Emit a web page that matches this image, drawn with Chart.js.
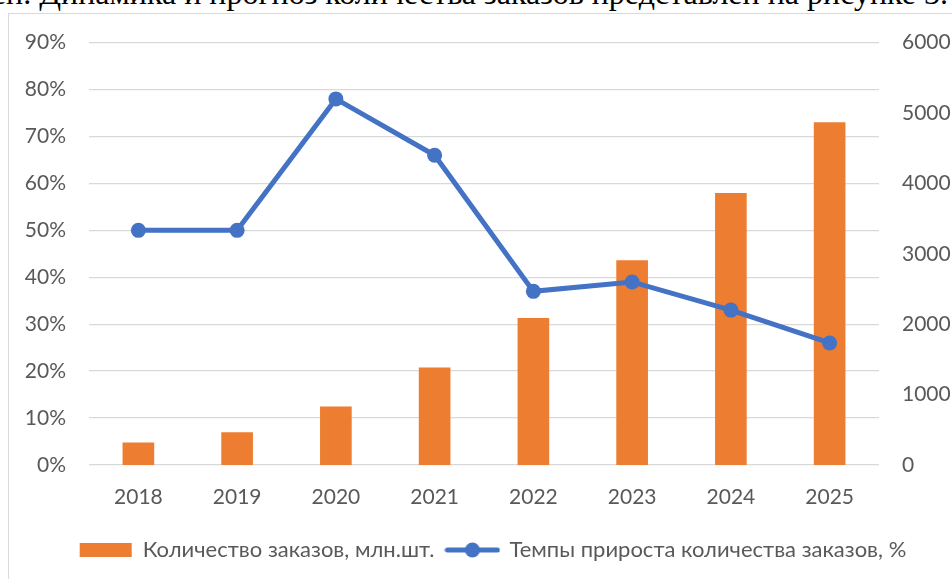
<!DOCTYPE html>
<html>
<head>
<meta charset="utf-8">
<script src="https://cdn.jsdelivr.net/npm/chart.js@4.4.1/dist/chart.umd.min.js"></script>
<style>
  html, body { margin: 0; padding: 0; background: #fff; overflow: hidden; width: 952px; height: 579px; }
  .caption { position: absolute; right: 4px; top: -23px; font: 32px/32px "Liberation Serif", "Times New Roman", serif; color: #000; white-space: nowrap; }
  .frame { position: absolute; left: 8px; top: 13px; width: 1000px; height: 600px; border-left: 1px solid #d9d9d9; border-top: 1px solid #d9d9d9; background: #fff; }
  .frame canvas { position: absolute; left: 0; top: -7px; }
</style>
</head>
<body>
<div class="caption">ен. Динамика и прогноз количества заказов представлен на рисунке 3.</div>
<div class="frame">
  <canvas id="ordersChart" width="968" height="566" style="width:968px;height:566px"></canvas>
</div>
<script>
const years = ['2018', '2019', '2020', '2021', '2022', '2023', '2024', '2025'];
const orders = [315, 460, 825, 1380, 2085, 2905, 3860, 4865];
const growthRates = [0.50, 0.50, 0.78, 0.66, 0.37, 0.39, 0.33, 0.26];
const ordersLabel = 'Количество заказов, млн.шт.';
const growthLabel = 'Темпы прироста количества заказов, %';

const orange = '#ED7D31';
const blue = '#4472C4';
const textColor = '#595959';
const gridColor = '#d9d9d9';
const tickFont = { family: 'Lato', size: 21 };

// legend icon for the line series: line with a marker in the middle
const lineIcon = document.createElement('canvas');
lineIcon.width = 56;
lineIcon.height = 16;
(function () {
  const c = lineIcon.getContext('2d');
  c.strokeStyle = blue;
  c.fillStyle = blue;
  c.lineWidth = 5;
  c.lineCap = 'round';
  c.beginPath();
  c.moveTo(3, 8);
  c.lineTo(53, 8);
  c.stroke();
  c.beginPath();
  c.arc(28, 8, 7.5, 0, Math.PI * 2);
  c.fill();
})();

const ordersChart = document.getElementById('ordersChart');
new Chart(ordersChart, {
  data: {
    labels: years,
    datasets: [
      {
        type: 'line',
        label: growthLabel,
        data: growthRates,
        yAxisID: 'yRate',
        borderColor: blue,
        backgroundColor: blue,
        borderWidth: 5,
        pointRadius: 7.5,
        pointHoverRadius: 7.5,
        pointBorderWidth: 0,
        tension: 0,
        order: 0
      },
      {
        type: 'bar',
        label: ordersLabel,
        data: orders,
        yAxisID: 'yOrders',
        backgroundColor: orange,
        borderWidth: 0,
        barThickness: 31,
        order: 1
      }
    ]
  },
  options: {
    responsive: false,
    animation: false,
    layout: { padding: { top: 20, left: 0, right: 0, bottom: 2 } },
    plugins: {
      tooltip: { enabled: false },
      legend: {
        position: 'bottom',
        reverse: true,
        labels: {
          color: textColor,
          font: { family: 'Lato', size: 22 },
          usePointStyle: true,
          pointStyleWidth: 52,
          boxHeight: 14,
          padding: 12,
          generateLabels: function (chart) {
            const items = Chart.defaults.plugins.legend.labels.generateLabels(chart);
            items.forEach(function (it) {
              if (it.datasetIndex === 0) {
                it.pointStyle = lineIcon;
              } else {
                it.pointStyle = 'rect';
                it.lineWidth = 0;
              }
            });
            return items;
          }
        }
      }
    },
    scales: {
      x: {
        grid: { display: false },
        border: { display: false },
        ticks: { color: textColor, font: tickFont, padding: 12 },
        afterFit: function (s) { s.height = 62; }
      },
      yRate: {
        position: 'left',
        min: 0,
        max: 0.9,
        grid: { color: gridColor, lineWidth: 1.3, drawTicks: false },
        border: { display: false },
        ticks: {
          stepSize: 0.1,
          padding: 23,
          color: textColor,
          font: tickFont,
          callback: function (v) { return Math.round(v * 100) + '%'; }
        },
        afterFit: function (s) { s.width = 80; }
      },
      yOrders: {
        position: 'right',
        min: 0,
        max: 6000,
        grid: { display: false, drawTicks: false },
        border: { display: false },
        ticks: {
          stepSize: 1000,
          padding: 23,
          color: textColor,
          font: tickFont,
          callback: function (v) { return String(v); }
        },
        afterFit: function (s) { s.width = 98; }
      }
    }
  }
});
</script>
</body>
</html>
